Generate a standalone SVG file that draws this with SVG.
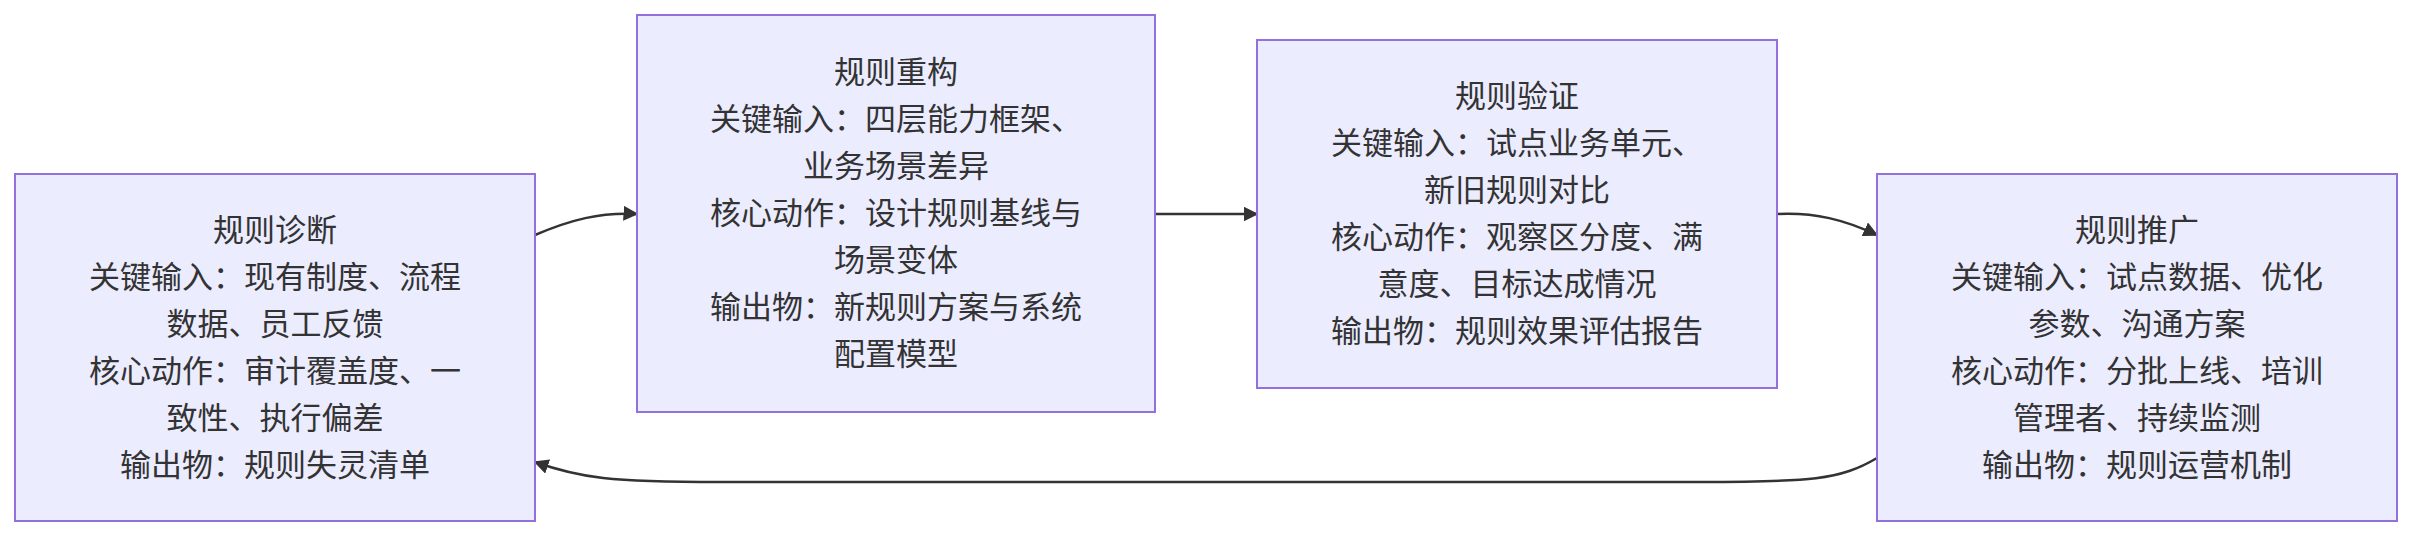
<svg xmlns="http://www.w3.org/2000/svg" width="2412" height="538" viewBox="0 0 2412 538">
<style>
.n{fill:#ECECFF;stroke:#9370DB;stroke-width:2}
.t{font-family:"Liberation Sans","Noto Sans CJK SC",sans-serif;font-size:31px;fill:#333;text-anchor:middle;dominant-baseline:central}
.e{fill:none;stroke:#333;stroke-width:2.5;marker-end:url(#a)}
</style>
<defs><marker id="a" viewBox="0 0 10 10" refX="9" refY="5" markerWidth="6" markerHeight="6" orient="auto" markerUnits="strokeWidth"><path d="M0,0L10,5L0,10z" fill="#333"/></marker></defs>
<rect width="2412" height="538" fill="#fff"/>
<g id="connectors">
<path class="e" d="M535,235C570,220 600,212 637,214"/>
<path class="e" d="M1155,214L1257,214"/>
<path class="e" d="M1777,214C1815,212 1845,220 1877,235"/>
<path class="e" d="M1877,458C1840,480 1810,482 1700,482L720,482C610,482 580,478 535,462"/>
</g>
<g id="n1"><rect class="n" x="15" y="174" width="520" height="347"/>
<text class="t" x="275" y="230">规则诊断</text><text class="t" x="275" y="277">关键输入：现有制度、流程</text><text class="t" x="275" y="324">数据、员工反馈</text><text class="t" x="275" y="371">核心动作：审计覆盖度、一</text><text class="t" x="275" y="418">致性、执行偏差</text><text class="t" x="275" y="465">输出物：规则失灵清单</text></g>
<g id="n2"><rect class="n" x="637" y="15" width="518" height="397"/>
<text class="t" x="896" y="72">规则重构</text><text class="t" x="896" y="119">关键输入：四层能力框架、</text><text class="t" x="896" y="166">业务场景差异</text><text class="t" x="896" y="213">核心动作：设计规则基线与</text><text class="t" x="896" y="260">场景变体</text><text class="t" x="896" y="307">输出物：新规则方案与系统</text><text class="t" x="896" y="354">配置模型</text></g>
<g id="n3"><rect class="n" x="1257" y="40" width="520" height="348"/>
<text class="t" x="1517" y="96">规则验证</text><text class="t" x="1517" y="143">关键输入：试点业务单元、</text><text class="t" x="1517" y="190">新旧规则对比</text><text class="t" x="1517" y="237">核心动作：观察区分度、满</text><text class="t" x="1517" y="284">意度、目标达成情况</text><text class="t" x="1517" y="331">输出物：规则效果评估报告</text></g>
<g id="n4"><rect class="n" x="1877" y="174" width="520" height="347"/>
<text class="t" x="2137" y="230">规则推广</text><text class="t" x="2137" y="277">关键输入：试点数据、优化</text><text class="t" x="2137" y="324">参数、沟通方案</text><text class="t" x="2137" y="371">核心动作：分批上线、培训</text><text class="t" x="2137" y="418">管理者、持续监测</text><text class="t" x="2137" y="465">输出物：规则运营机制</text></g>
</svg>
